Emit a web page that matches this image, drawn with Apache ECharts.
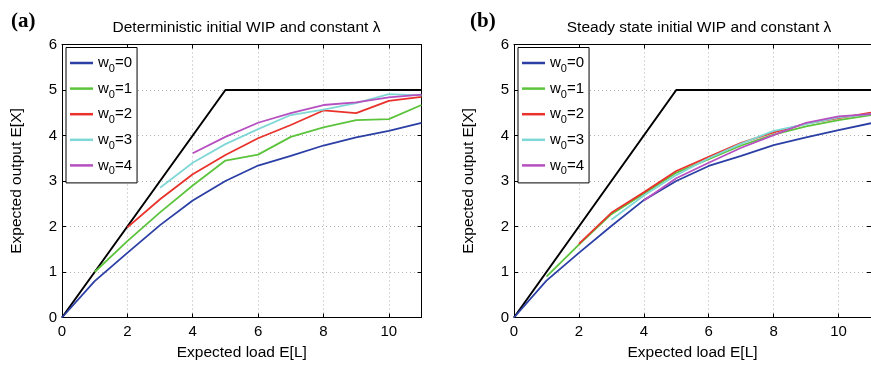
<!DOCTYPE html>
<html>
<head>
<meta charset="utf-8">
<script src="https://cdn.jsdelivr.net/npm/echarts@6/dist/echarts.min.js"></script>
<style>
  html, body { margin: 0; padding: 0; background: #fff; }
  #chart { width: 871px; height: 370px; }
</style>
</head>
<body>
<div id="chart"></div>
<script>
// expected load E[L], one point per integer
const loads = [0, 1, 2, 3, 4, 5, 6, 7, 8, 9, 10, 11];

// capacity bound (black line)
const capX = [0, 5, 11];
const capY = [0, 5, 5];

// (a) deterministic initial WIP
const detW0 = [0, 0.80, 1.42, 2.03, 2.57, 3.00, 3.34, 3.55, 3.78, 3.96, 4.10, 4.28];
const detW1 = [null, 1.00, 1.68, 2.31, 2.90, 3.45, 3.58, 3.97, 4.18, 4.34, 4.36, 4.67];
const detW2 = [null, null, 1.98, 2.60, 3.15, 3.57, 3.94, 4.23, 4.55, 4.49, 4.76, 4.85];
const detW3 = [null, null, null, 2.85, 3.40, 3.81, 4.14, 4.45, 4.57, 4.71, 4.91, 4.88];
const detW4 = [null, null, null, null, 3.61, 3.97, 4.28, 4.49, 4.67, 4.73, 4.84, 4.90];

// (b) steady state initial WIP
const ssW0 = [0, 0.81, 1.42, 2.01, 2.58, 3.00, 3.33, 3.55, 3.79, 3.96, 4.12, 4.27];
const ssW1 = [null, 0.90, 1.60, 2.27, 2.72, 3.18, 3.48, 3.78, 4.02, 4.20, 4.34, 4.45];
const ssW2 = [null, null, 1.62, 2.30, 2.75, 3.22, 3.53, 3.84, 4.07, 4.26, 4.38, 4.50];
const ssW3 = [null, null, null, 2.15, 2.68, 3.13, 3.50, 3.82, 4.10, 4.25, 4.40, 4.47];
const ssW4 = [null, null, null, null, 2.57, 3.06, 3.40, 3.73, 4.01, 4.28, 4.42, 4.47];

const wipNames = ['w0=0', 'w0=1', 'w0=2', 'w0=3', 'w0=4'];
const colors = ['#2b3fa5', '#5cc43c', '#e8322b', '#80d8d6', '#b64fc0'];

const panelTitles = ['Deterministic initial WIP and constant \u03bb', 'Steady state initial WIP and constant \u03bb'];
const panelTags = ['(a)', '(b)'];

const FONT = 'Liberation Sans, Arial, sans-serif';

function pairs(xs, ys) {
  return xs.map((x, i) => [x, ys[i]]).filter(p => p[1] != null);
}

const chart = echarts.init(document.getElementById('chart'));

const grids = [
  { left: 62, top: 44.5, width: 359.5, height: 273 },
  { left: 514, top: 44.5, width: 359.5, height: 273 },
];

const gridLine = { show: true, lineStyle: { color: '#b0b0b0', type: [1, 3], width: 1 } };

const xAxis = [];
const yAxis = [];
grids.forEach((g, i) => {
  xAxis.push({
    type: 'value', gridIndex: i, min: 0, max: 11, interval: 2,
    name: 'Expected load E[L]', nameLocation: 'middle', nameGap: 25,
    nameTextStyle: { fontFamily: FONT, fontSize: 15.5, color: '#000' },
    axisLine: { lineStyle: { color: '#000', width: 1 } },
    axisTick: { inside: true, length: 4, lineStyle: { color: '#000' } },
    axisLabel: { fontFamily: FONT, fontSize: 15, color: '#000', margin: 7, showMaxLabel: false },
    splitLine: gridLine,
  });
  xAxis.push({
    type: 'value', gridIndex: i, position: 'top', min: 0, max: 11, interval: 2,
    axisLine: { onZero: false, lineStyle: { color: '#000', width: 1 } },
    axisTick: { inside: true, length: 4, lineStyle: { color: '#000' } },
    axisLabel: { show: false }, splitLine: { show: false },
  });
  yAxis.push({
    type: 'value', gridIndex: i, min: 0, max: 6, interval: 1,
    name: 'Expected output E[X]', nameLocation: 'middle', nameGap: 37,
    nameTextStyle: { fontFamily: FONT, fontSize: 15.5, color: '#000' },
    axisLine: { show: true, lineStyle: { color: '#000', width: 1 } },
    axisTick: { show: true, inside: true, length: 4, lineStyle: { color: '#000' } },
    axisLabel: { fontFamily: FONT, fontSize: 15, color: '#000', margin: 5 },
    splitLine: gridLine,
  });
  yAxis.push({
    type: 'value', gridIndex: i, position: 'right', min: 0, max: 6, interval: 1,
    axisLine: { show: true, onZero: false, lineStyle: { color: '#000', width: 1 } },
    axisTick: { show: true, inside: true, length: 4, lineStyle: { color: '#000' } },
    axisLabel: { show: false }, splitLine: { show: false },
  });
});

const panelData = [
  [detW0, detW1, detW2, detW3, detW4],
  [ssW0, ssW1, ssW2, ssW3, ssW4],
];

const series = [];
panelData.forEach((sets, p) => {
  series.push({
    type: 'line', name: 'capacity', xAxisIndex: p * 2, yAxisIndex: p * 2,
    data: pairs(capX, capY), symbol: 'none', silent: true,
    lineStyle: { color: '#000', width: 2 }, z: 3,
  });
  sets.forEach((vals, k) => {
    series.push({
      type: 'line', name: wipNames[k], xAxisIndex: p * 2, yAxisIndex: p * 2,
      data: pairs(loads, vals), symbol: 'none',
      itemStyle: { color: colors[k] },
      lineStyle: { color: colors[k], width: 1.8 }, z: 4,
    });
  });
});

const legendBase = {
  orient: 'vertical', top: 47.5, data: wipNames,
  icon: 'rect', itemWidth: 23, itemHeight: 2.5, itemGap: 2.6,
  padding: [4, 5, 6, 4],
  backgroundColor: '#fff', borderColor: '#000', borderWidth: 1, borderRadius: 0,
  selectedMode: false,
  formatter: name => '{w|w}{s|0}{m|=' + name.split('=')[1] + '}',
  textStyle: {
    fontFamily: FONT, fontSize: 15, color: '#000',
    rich: {
      w: { fontFamily: FONT, fontSize: 15, color: '#000', lineHeight: 22 },
      s: { fontFamily: FONT, fontSize: 11, color: '#000', padding: [12, 0, 0, 0], lineHeight: 10 },
      m: { fontFamily: FONT, fontSize: 15, color: '#000', lineHeight: 22 },
    },
  },
};

chart.setOption({
  animation: false,
  backgroundColor: '#fff',
  title: [
    { text: panelTitles[0], left: 241.5, top: 15, textAlign: 'center', textStyle: { fontFamily: FONT, fontSize: 15.5, fontWeight: 'normal', color: '#000' } },
    { text: panelTitles[1], left: 694, top: 15, textAlign: 'center', textStyle: { fontFamily: FONT, fontSize: 15.5, fontWeight: 'normal', color: '#000' } },
    { text: panelTags[0], left: 6, top: 6, textStyle: { fontFamily: 'Liberation Serif, Times New Roman, serif', fontSize: 21, fontWeight: 'bold', color: '#000' } },
    { text: panelTags[1], left: 465, top: 6, textStyle: { fontFamily: 'Liberation Serif, Times New Roman, serif', fontSize: 21, fontWeight: 'bold', color: '#000' } },
  ],
  legend: [
    Object.assign({}, legendBase, { left: 66 }),
    Object.assign({}, legendBase, { left: 518 }),
  ],
  grid: grids,
  xAxis: xAxis,
  yAxis: yAxis,
  series: series,
});
</script>
</body>
</html>
